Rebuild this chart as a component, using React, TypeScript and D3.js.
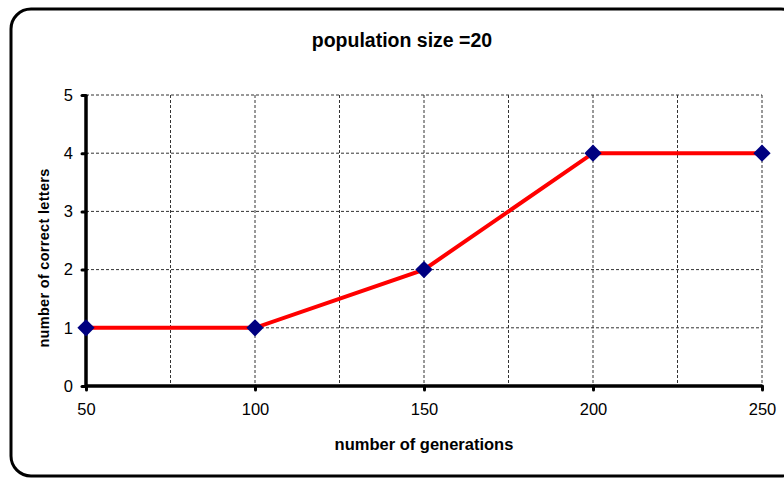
import { useEffect, useRef } from "react";
import * as d3 from "d3";

const generations = [50, 100, 150, 200, 250];
const correctLetters = [1, 1, 2, 4, 4];
const xTicks = [50, 100, 150, 200, 250];
const xGrid = [75, 100, 125, 150, 175, 200, 225, 250];
const yTicks = [0, 1, 2, 3, 4, 5];

export default function App() {
    const svgRef = useRef<SVGSVGElement>(null);

    useEffect(() => {
        const width = 784;
        const height = 478;
        const margin = { top: 95, right: 22, bottom: 92, left: 86 };
        const innerW = width - margin.left - margin.right;
        const innerH = height - margin.top - margin.bottom;
        const font = "Arial, 'Liberation Sans', sans-serif";

        const svg = d3.select(svgRef.current);
        svg.selectAll("*").remove();

        // outer chart frame
        svg.append("rect")
            .attr("x", 11)
            .attr("y", 9)
            .attr("width", 790)
            .attr("height", 467)
            .attr("rx", 20)
            .attr("fill", "white")
            .attr("stroke", "black")
            .attr("stroke-width", 3);

        const g = svg.append("g").attr("transform", `translate(${margin.left},${margin.top})`);

        const x = d3.scaleLinear().domain([50, 250]).range([0, innerW]);
        const y = d3.scaleLinear().domain([0, 5]).range([innerH, 0]);

        // gridlines
        g.append("g")
            .selectAll("line")
            .data(yTicks.slice(1))
            .enter()
            .append("line")
            .attr("x1", 0)
            .attr("x2", innerW)
            .attr("y1", (d) => y(d))
            .attr("y2", (d) => y(d))
            .attr("stroke", "#333")
            .attr("stroke-width", 1)
            .attr("stroke-dasharray", "3,2");
        g.append("g")
            .selectAll("line")
            .data(xGrid)
            .enter()
            .append("line")
            .attr("x1", (d) => x(d))
            .attr("x2", (d) => x(d))
            .attr("y1", 0)
            .attr("y2", innerH)
            .attr("stroke", "#333")
            .attr("stroke-width", 1)
            .attr("stroke-dasharray", "3,2");

        // axes
        const xAxis = g.append("g")
            .attr("transform", `translate(0,${innerH})`)
            .call(d3.axisBottom(x).tickValues(xTicks).tickSize(4).tickPadding(13).tickFormat(d3.format("d")));
        const yAxis = g.append("g")
            .call(d3.axisLeft(y).tickValues(yTicks).tickSize(4).tickPadding(9).tickFormat(d3.format("d")));

        [xAxis, yAxis].forEach((ax) => {
            ax.select(".domain").attr("stroke", "black").attr("stroke-width", 3.5);
            ax.selectAll(".tick line").attr("stroke", "black").attr("stroke-width", 3).attr("stroke-linecap", "round");
            ax.selectAll(".tick text")
                .attr("fill", "black")
                .style("font-family", font)
                .style("font-size", "16.5px");
        });
        xAxis.select(".domain").attr("d", `M0,0H${innerW}`);
        yAxis.select(".domain").attr("d", `M0,${innerH}V0`);

        // series
        const pts = generations.map((gv, i) => ({ gv, v: correctLetters[i] }));
        const line = d3.line<{ gv: number; v: number }>()
            .x((d) => x(d.gv))
            .y((d) => y(d.v));

        g.append("path")
            .datum(pts)
            .attr("d", line)
            .attr("fill", "none")
            .attr("stroke", "#ff0000")
            .attr("stroke-width", 4);

        g.append("g")
            .selectAll("path")
            .data(pts)
            .enter()
            .append("path")
            .attr("d", d3.symbol().type(d3.symbolDiamond2).size(190)())
            .attr("transform", (d) => `translate(${x(d.gv)},${y(d.v)})`)
            .attr("fill", "#000080");

        // titles
        svg.append("text")
            .attr("x", 402)
            .attr("y", 47)
            .attr("text-anchor", "middle")
            .style("font-family", font)
            .style("font-weight", "bold")
            .style("font-size", "19.5px")
            .text("population size =20");

        svg.append("text")
            .attr("x", 424)
            .attr("y", 450)
            .attr("text-anchor", "middle")
            .style("font-family", font)
            .style("font-weight", "bold")
            .style("font-size", "16.5px")
            .text("number of generations");

        svg.append("text")
            .attr("transform", `translate(49,258) rotate(-90)`)
            .attr("text-anchor", "middle")
            .style("font-family", font)
            .style("font-weight", "bold")
            .style("font-size", "14.5px")
            .style("letter-spacing", "0.3px")
            .text("number of correct letters");
    }, []);

    return (
        <svg
            ref={svgRef}
            width={784}
            height={478}
            style={{ position: "absolute", left: 0, top: 0 }}
        />
    );
}
